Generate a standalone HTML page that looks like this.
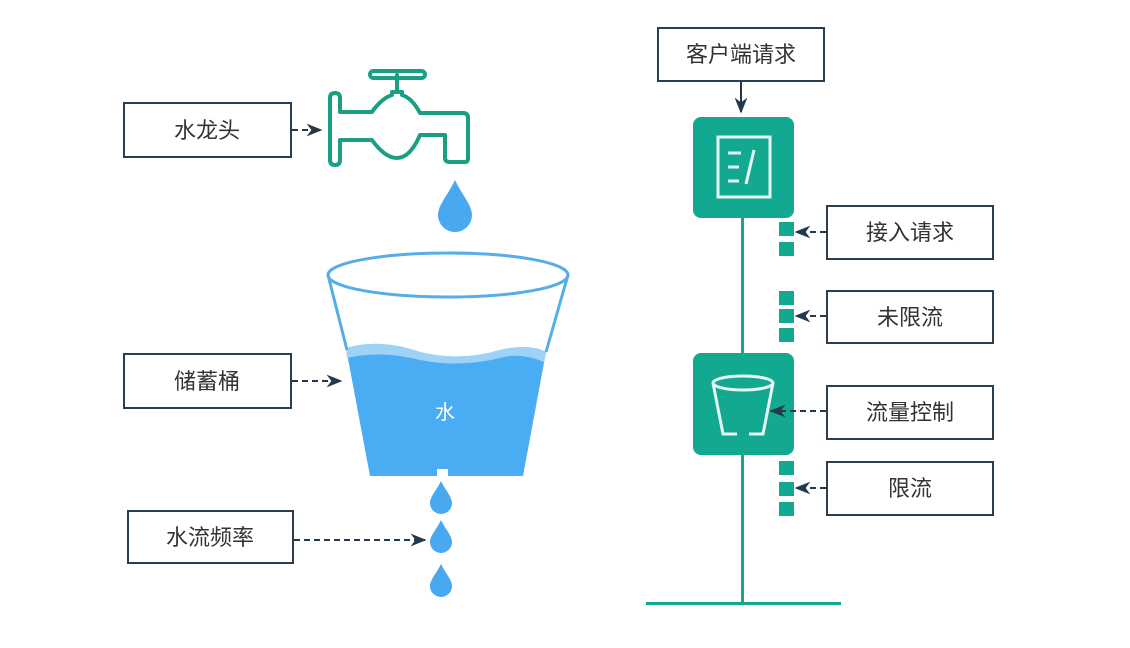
<!DOCTYPE html>
<html><head><meta charset="utf-8"><style>
html,body{margin:0;padding:0;background:#fff}
svg{display:block}
text{font-family:"Liberation Sans","Noto Sans CJK SC",sans-serif}
</style></head><body>
<svg width="1130" height="648" viewBox="0 0 1130 648" xmlns="http://www.w3.org/2000/svg">
<defs>
<marker id="ah" viewBox="0 0 10 10" refX="9" refY="5" markerWidth="8" markerHeight="8" orient="auto-start-reverse"><path d="M0,1 L10,5 L0,9 L3,5 z" fill="#23384a"/></marker>
</defs>
<g fill="#fff" stroke="#2a3e50" stroke-width="2">
<rect x="124" y="103" width="167" height="54"/>
<rect x="124" y="354" width="167" height="54"/>
<rect x="128" y="511" width="165" height="52"/>
<rect x="658" y="28" width="166" height="53"/>
<rect x="827" y="206" width="166" height="53"/>
<rect x="827" y="291" width="166" height="52"/>
<rect x="827" y="386" width="166" height="53"/>
<rect x="827" y="462" width="166" height="53"/>
</g>
<g font-size="22" fill="#333" text-anchor="middle">
<text x="207" y="138">水龙头</text>
<text x="207" y="389">储蓄桶</text>
<text x="210" y="545">水流频率</text>
<text x="741" y="62">客户端请求</text>
<text x="910" y="240">接入请求</text>
<text x="910" y="325">未限流</text>
<text x="910" y="420">流量控制</text>
<text x="910" y="496">限流</text>
</g>
<!-- faucet -->
<g fill="none" stroke="#1a9e84" stroke-width="4" stroke-linejoin="round" stroke-linecap="round">
<path d="M335,93 Q330,93 330,98 V160 Q330,165 335,165 Q340,165 340,160 V140 H372 Q385,158 397,158 Q410,158 420,135 H445 V158 Q445,162 450,162 H465 Q468,162 468,158 V118 Q468,113 463,113 H420 Q412,98 402,95 V92 H392 V95 Q382,98 372,112 H340 V98 Q340,93 335,93 Z"/>
<line x1="397" y1="92" x2="397" y2="75"/>
<rect x="370" y="71" width="55" height="7" rx="3.5"/>
</g>
<!-- drops -->
<g fill="#48a8f0">
<path d="M455,180 C462,195 472,205 472,215 A17,17 0 0 1 438,215 C438,205 448,195 455,180 Z"/>
<path d="M441,481 C446,491 452,497 452,503 A11,11 0 0 1 430,503 C430,497 436,491 441,481 Z"/>
<path d="M441,520 C446,530 452,536 452,542 A11,11 0 0 1 430,542 C430,536 436,530 441,520 Z"/>
<path d="M441,564 C446,574 452,580 452,586 A11,11 0 0 1 430,586 C430,580 436,574 441,564 Z"/>
</g>
<!-- bucket -->
<path d="M346,348 Q380,338 420,352 Q460,362 500,350 Q530,343 546,352 L523,476 H448 V469 H437 V476 H370 Z" fill="#4aacf2"/>
<path d="M346,348 Q380,338 420,352 Q460,362 500,350 Q530,343 546,352 L544,362 Q520,352 500,358 Q460,368 420,360 Q380,350 347,358 Z" fill="#9fd2f7"/>
<g fill="none" stroke="#55aee8" stroke-width="3">
<ellipse cx="448" cy="275" rx="120" ry="22"/>
<line x1="328" y1="275" x2="347" y2="350"/>
<line x1="568" y1="275" x2="546" y2="352"/>
</g>
<text x="445" y="419" font-size="20" fill="#fff" text-anchor="middle">水</text>
<!-- right side -->
<g fill="#13a991">
<rect x="741" y="215" width="3" height="390"/>
<rect x="646" y="602" width="195" height="3"/>
<rect x="693" y="117" width="101" height="101" rx="8"/>
<rect x="693" y="353" width="101" height="102" rx="8"/>
<rect x="779" y="222" width="15" height="14"/>
<rect x="779" y="242" width="15" height="14"/>
<rect x="779" y="291" width="15" height="14"/>
<rect x="779" y="309" width="15" height="14"/>
<rect x="779" y="328" width="15" height="14"/>
<rect x="779" y="461" width="15" height="14"/>
<rect x="779" y="482" width="15" height="14"/>
<rect x="779" y="502" width="15" height="14"/>
</g>
<g fill="none" stroke="#e6f7f3" stroke-width="3">
<rect x="718" y="137" width="52" height="60"/>
<line x1="728" y1="153" x2="741" y2="153"/>
<line x1="728" y1="167" x2="739" y2="167"/>
<line x1="728" y1="181" x2="739" y2="181"/>
<line x1="754" y1="150" x2="746" y2="184"/>
<ellipse cx="743" cy="383" rx="30" ry="7"/>
<path d="M713,383 L723,434 H737 M749,434 H763 L773,383"/>
</g>
<g stroke="#23384a" stroke-width="2" stroke-dasharray="6,4" fill="none" marker-end="url(#ah)">
<line x1="292" y1="130" x2="321" y2="130"/>
<line x1="292" y1="381" x2="341" y2="381"/>
<line x1="294" y1="540" x2="425" y2="540"/>
<line x1="826" y1="232" x2="796" y2="232"/>
<line x1="826" y1="316" x2="796" y2="316"/>
<line x1="826" y1="411" x2="771" y2="411"/>
<line x1="826" y1="488" x2="796" y2="488"/>
</g>
<line x1="741" y1="82" x2="741" y2="112" stroke="#23384a" stroke-width="2" marker-end="url(#ah)"/>
</svg>
</body></html>
